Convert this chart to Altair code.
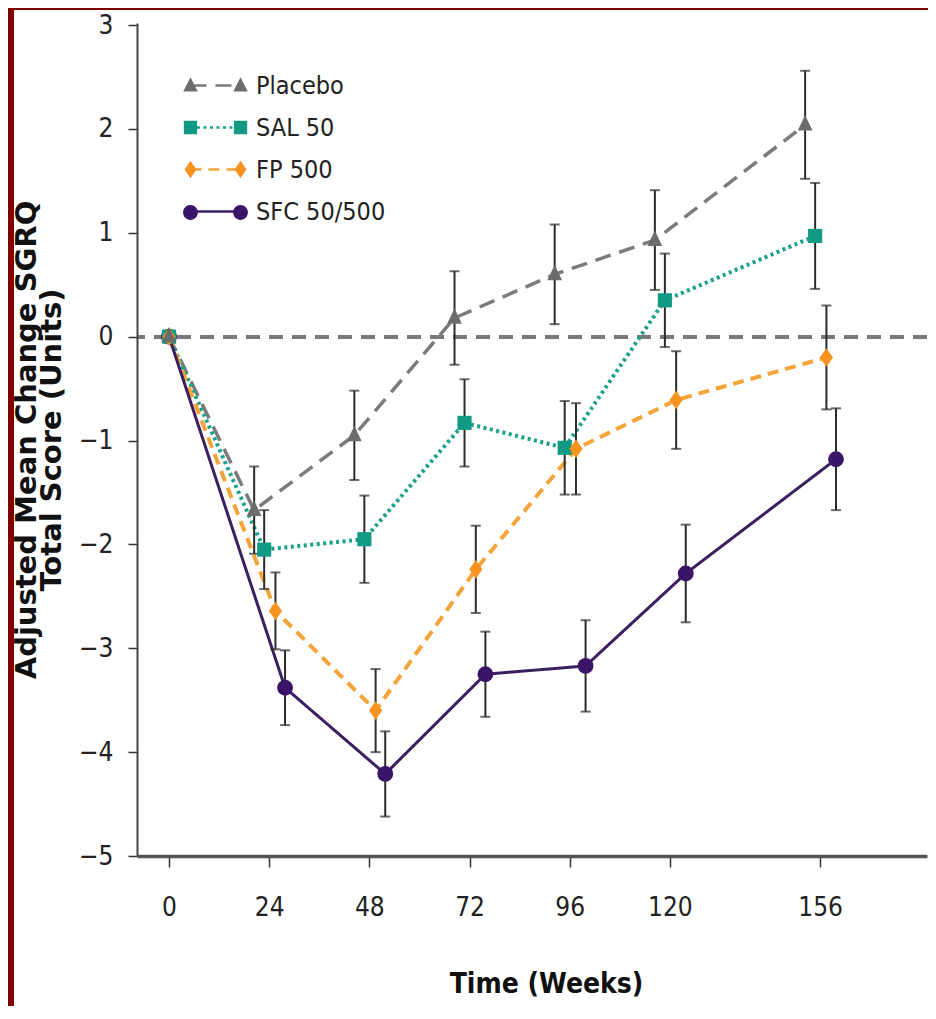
import altair as alt
import pandas as pd

# ---------------- data ----------------
weeks = [0, 24, 48, 72, 96, 120, 156]
series_names = ["Placebo", "SAL 50", "FP 500", "SFC 50/500"]

placebo_mean = [0.0, -1.67, -0.95, 0.18, 0.60, 0.93, 2.04]
placebo_err = [0.0, 0.42, 0.43, 0.45, 0.48, 0.48, 0.52]
sal_mean = [0.0, -2.05, -1.95, -0.83, -1.07, 0.35, 0.97]
sal_err = [0.0, 0.38, 0.42, 0.42, 0.45, 0.45, 0.51]
fp_mean = [0.0, -2.64, -3.60, -2.24, -1.08, -0.61, -0.20]
fp_err = [0.0, 0.37, 0.40, 0.42, 0.44, 0.47, 0.50]
sfc_mean = [0.0, -3.38, -4.21, -3.25, -3.17, -2.28, -1.18]
sfc_err = [0.0, 0.36, 0.41, 0.41, 0.44, 0.47, 0.49]

y_ticks = [-5, -4, -3, -2, -1, 0, 1, 2, 3]
x_ticks = weeks
y_title = ["Adjusted Mean Change SGRQ", "Total Score (Units)"]
x_title = "Time (Weeks)"

# ---------------- styling ----------------
means = dict(zip(series_names, [placebo_mean, sal_mean, fp_mean, sfc_mean]))
errs = dict(zip(series_names, [placebo_err, sal_err, fp_err, sfc_err]))
dodge = {"Placebo": -3.6, "SAL 50": -1.2, "FP 500": 1.5, "SFC 50/500": 3.8}
line_color = {"Placebo": "#7b7b7b", "SAL 50": "#18a08b", "FP 500": "#f5a43a", "SFC 50/500": "#3b1f5f"}
point_color = {"Placebo": "#6c6c6c", "SAL 50": "#109a84", "FP 500": "#f7931e", "SFC 50/500": "#3a1466"}
dash = {"Placebo": [16, 9], "SAL 50": [3, 3.5], "FP 500": [11, 7], "SFC 50/500": [1, 0]}
line_width = {"Placebo": 3.5, "SAL 50": 4, "FP 500": 4, "SFC 50/500": 3}
point_shape = {
    "Placebo": "M0,-1.25L0.95,0.75L-0.95,0.75Z",
    "SAL 50": "square",
    "FP 500": "M0,-1.2L0.85,0L0,1.2L-0.85,0Z",
    "SFC 50/500": "circle",
}
point_size = {"Placebo": 240, "SAL 50": 200, "FP 500": 240, "SFC 50/500": 250}
point_draw_order = ["SFC 50/500", "SAL 50", "FP 500", "Placebo"]

NARROW = "Liberation Sans Narrow, DejaVu Sans Condensed, sans-serif"

C = 1.39  # legend marker centre (symbol units)


def legend_markers(kind):
    out = []
    for cx in (-C, C):
        if kind == "tri":
            out.append(f"M{cx-0.4},0.34L{cx},-0.46L{cx+0.4},0.34Z")
        elif kind == "sq":
            out.append(f"M{cx-0.37},-0.37L{cx+0.37},-0.37L{cx+0.37},0.37L{cx-0.37},0.37Z")
        elif kind == "dia":
            out.append(f"M{cx},-0.48L{cx+0.33},0L{cx},0.48L{cx-0.33},0Z")
        else:
            r = 0.41
            out.append(f"M{cx-r},0A{r},{r},0,1,0,{cx+r},0A{r},{r},0,1,0,{cx-r},0Z")
    return "".join(out)


legend_marker_paths = [legend_markers(k) for k in ["tri", "sq", "dia", "circ"]]
legend_line_path = f"M{-C},0L{C},0"
marker_keys = ["marker " + s for s in series_names]

rows = []
for s in series_names:
    for w, v, e in zip(weeks, means[s], errs[s]):
        rows.append(dict(series=s, week=w, x=w + (dodge[s] if w > 0 else 0.0),
                         value=v, lo=v - e, hi=v + e, se=e))
df = pd.DataFrame(rows)

W, H = 790, 833
x_scale = alt.Scale(domain=[-7.67, 181.6], nice=False, zero=False)
y_scale = alt.Scale(domain=[-5, 3.02], nice=False, zero=False)

x_axis = alt.Axis(values=x_ticks, title=x_title, format="d", grid=False, zindex=1,
                  labelFont=NARROW, labelFontSize=26, labelColor="#222", labelPadding=27,
                  labelFlush=False, labelOverlap=False,
                  tickSize=11, tickWidth=1.5, tickColor="#333",
                  domainColor="#555", domainWidth=3.5,
                  titleFont=NARROW, titleFontSize=28, titleFontWeight="bold", titleColor="#111",
                  titleBaseline="alphabetic", titleY=136, titleX=409)
y_axis = alt.Axis(values=y_ticks, title=y_title, format="d", grid=False, zindex=1,
                  labelFont=NARROW, labelFontSize=26, labelColor="#222", labelPadding=15,
                  tickSize=9, tickWidth=1.5, tickColor="#333",
                  domainColor="#444", domainWidth=2,
                  titleFont="DejaVu Sans", titleFontSize=29, titleFontWeight="bold", titleColor="#111",
                  titleAngle=270, titleAlign="center", titleBaseline="alphabetic",
                  titleX=-102, titleY=H / 2, titleLineHeight=25)


def X(field="x"):
    return alt.X(f"{field}:Q", scale=x_scale, axis=x_axis)


def Y(field="value"):
    return alt.Y(f"{field}:Q", scale=y_scale, axis=y_axis)


base = alt.Chart(df)

frame = alt.Chart(df).mark_rect(color="white").encode(
    x=alt.value(-123), x2=alt.value(W + 1), y=alt.value(-13), y2=alt.value(H + 150)
)

zero_rule = base.mark_rule(color="#7a7a7a", strokeWidth=3, strokeDash=[14, 9]).encode(
    y=alt.Y(datum=0, scale=y_scale, axis=y_axis)
)

line_layers = []
for s in series_names:
    sub = base.transform_filter(alt.datum.series == s)
    line_layers.append(
        sub.mark_line(color=line_color[s], strokeWidth=line_width[s], strokeDash=dash[s]).encode(
            x=X(), y=Y(), order="week:Q")
    )

point_layers = []
for s in point_draw_order:
    sub = base.transform_filter(alt.datum.series == s)
    point_layers.append(
        sub.mark_point(filled=True, opacity=1, shape=point_shape[s], size=point_size[s],
                       color=point_color[s]).encode(x=X(), y=Y())
    )

eb = base.transform_filter(alt.datum.se > 0)
err_rule = eb.mark_rule(color="#2b2b2b", strokeWidth=2).encode(x=X(), y=Y("lo"), y2="hi:Q")
cap_lo = eb.mark_tick(color="#2b2b2b", orient="horizontal", size=10, thickness=2).encode(x=X(), y=Y("lo"))
cap_hi = eb.mark_tick(color="#2b2b2b", orient="horizontal", size=10, thickness=2).encode(x=X(), y=Y("hi"))

common_legend = dict(title=None, orient="none", legendX=59, legendY=43,
                     symbolSize=1296, symbolStrokeWidth=2.5, symbolOffset=0,
                     labelFont=NARROW, labelFontSize=25, labelOffset=21,
                     rowPadding=9, padding=0, labelLimit=400, symbolOpacity=1)

# legend part A: connecting line segments + labels
legend_a = alt.Legend(symbolType=legend_line_path, labelColor="#222", **common_legend)
legend_line_layer = base.transform_filter("false").mark_point(opacity=1, strokeWidth=2.5).encode(
    x=X(), y=Y(),
    stroke=alt.Stroke("series:N", scale=alt.Scale(domain=series_names,
                                                  range=[line_color[s] for s in series_names]),
                      legend=legend_a),
    strokeDash=alt.StrokeDash("series:N", scale=alt.Scale(domain=series_names,
                                                          range=[dash[s] for s in series_names]),
                              legend=legend_a),
)

# legend part B: end markers drawn on top of part A (no label text of its own)
legend_b = alt.Legend(symbolStrokeColor="transparent", labelExpr="''", **common_legend)
legend_marker_layer = base.transform_filter("false").mark_point(filled=True, opacity=1).encode(
    x=X(), y=Y(),
    fill=alt.Fill("series:N", scale=alt.Scale(domain=marker_keys,
                                              range=[point_color[s] for s in series_names]),
                  legend=legend_b),
    shape=alt.Shape("series:N", scale=alt.Scale(domain=marker_keys, range=legend_marker_paths),
                    legend=legend_b),
)

chart = alt.layer(
    frame, zero_rule, *line_layers, err_rule, cap_lo, cap_hi, *point_layers,
    legend_line_layer, legend_marker_layer
).properties(
    width=W, height=H,
    autosize=alt.AutoSizeParams(type="none"),
    padding={"left": 129, "top": 15, "right": 1, "bottom": 150},
    background="#800000",
).configure_view(stroke=None)

chart.save("out.html", embed_options={"renderer": "svg", "actions": False})
